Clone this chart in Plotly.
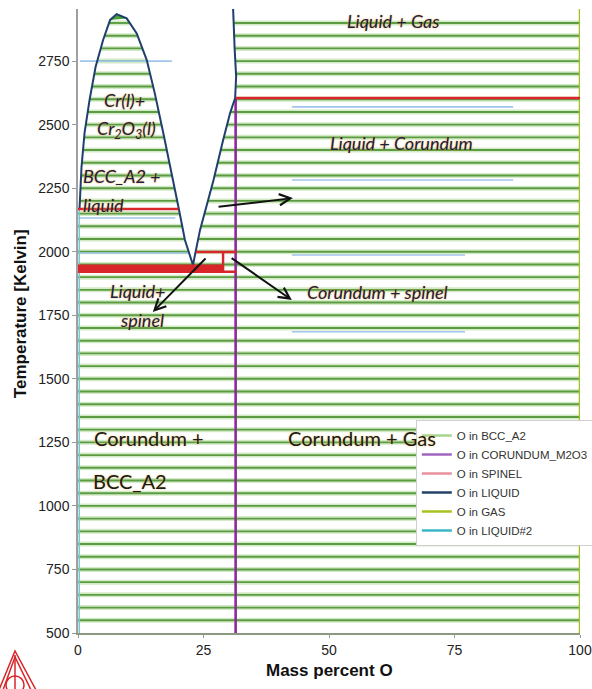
import numpy as np
import plotly.graph_objects as go

# ---------------- data ----------------
# O in LIQUID boundary: miscibility dome, eutectic V and upper liquidus
LIQ_X = [0.3, 0.4, 0.7, 1.3, 2.3, 3.5, 5.0, 6.4, 7.7, 9.7, 11.7, 13.7, 15.3, 17.0,
         18.7, 20.0, 21.3, 22.9, 24.3, 27.0, 28.9, 30.3, 31.3, 31.5, 31.2, 30.9]
LIQ_T = [2168, 2200, 2333, 2467, 2597, 2727, 2833, 2912, 2935, 2918, 2859, 2754, 2623, 2466,
         2308, 2177, 2046, 1948, 2085, 2282, 2439, 2546, 2605, 2690, 2800, 2955]
I_PEAK, I_VBOT, I_CORNER = 8, 17, 22

CORUNDUM_X = [31.4, 31.4]
CORUNDUM_T = [500, 2605]
GAS_X = [100, 100]
GAS_T = [500, 2955]
LIQ2_X = [0.25, 0.25]
LIQ2_T = [500, 2168]

# red invariant / spinel lines: (x0, x1, T0, T1)
RED_SEGS = [
    (0.0, 20.0, 2168, 2168),
    (31.4, 100.0, 2605, 2605),
    (0.0, 28.9, 1945, 1945),
    (0.0, 28.9, 1937, 1937),
    (0.0, 28.9, 1929, 1929),
    (0.0, 31.6, 1921, 1921),
    (23.5, 31.6, 1999, 1999),
    (28.9, 28.9, 1999, 1921),
]

# light-blue text-box borders: (x0, x1, T)
BOX_LINES = [
    (0.4, 18.7, 2750), (0.0, 19.4, 2133), (0.0, 22.3, 1995),
    (42.6, 86.7, 2570), (42.6, 86.7, 2282),
    (42.6, 77.1, 1987), (42.6, 77.1, 1685),
]

# tie-line temperatures
TIE_T = [550, 600, 650, 700, 750, 800, 850, 900, 950, 1000, 1050, 1100, 1150, 1200,
         1250, 1300, 1350, 1400, 1450, 1500, 1550, 1600, 1650, 1700, 1750, 1800, 1850,
         1900, 1950, 2000, 2050, 2100, 2150, 2200, 2250, 2300, 2350, 2400, 2450, 2500,
         2550, 2600, 2650, 2700, 2750, 2800, 2850, 2900]

X_TICKS = [0, 25, 50, 75, 100]
Y_TICKS = [500, 750, 1000, 1250, 1500, 1750, 2000, 2250, 2500, 2750]

LEGEND_NAMES = ["O in BCC_A2", "O in CORUNDUM_M2O3", "O in SPINEL",
                "O in LIQUID", "O in GAS", "O in LIQUID#2"]
LEGEND_COLORS = ["#a8d590", "#a066c0", "#e8909e", "#23406a", "#a8c21c", "#3ab7c4"]

# ---------------- helpers ----------------
lx = np.array(LIQ_X, float)
lt = np.array(LIQ_T, float)


def branch(i0, i1):
    ts = lt[i0:i1 + 1]
    xs = lx[i0:i1 + 1]
    o = np.argsort(ts)
    return ts[o], xs[o]


LEFT = branch(0, I_PEAK)
RIGHT = branch(I_PEAK, I_VBOT)
VRIGHT = branch(I_VBOT, I_CORNER)
TOP = branch(I_CORNER, len(LIQ_X) - 1)
T_MONO = LIQ_T[0]
T_PERI = LIQ_T[I_CORNER]

tie_x, tie_y = [], []
for T in TIE_T:
    segs = []
    if T < 1925:
        segs.append((0.0, 100.0))
    else:
        if T <= lt[I_PEAK]:
            xr = np.interp(T, *RIGHT)
            xl = 0.0 if T < T_MONO else np.interp(T, *LEFT)
            segs.append((xl, xr))
        if T < T_PERI:
            segs.append((np.interp(T, *VRIGHT), 100.0))
        else:
            segs.append((np.interp(T, *TOP), 100.0))
    for a, b in segs:
        tie_x += [a, b, None]
        tie_y += [T, T, None]

fig = go.Figure()

# tie-lines (halo + line)
fig.add_trace(go.Scatter(x=tie_x, y=tie_y, mode="lines", showlegend=False, hoverinfo="skip",
                         line=dict(color="#d3eac6", width=5)))
fig.add_trace(go.Scatter(x=tie_x, y=tie_y, mode="lines", showlegend=False, hoverinfo="skip",
                         line=dict(color="#5b9c43", width=1.9)))

# filled dome top
fig.add_trace(go.Scatter(x=LIQ_X[I_PEAK - 1:I_PEAK + 2], y=LIQ_T[I_PEAK - 1:I_PEAK + 2],
                         mode="lines", fill="toself", fillcolor="#4a9e3c",
                         line=dict(color="#4a9e3c", width=1), showlegend=False, hoverinfo="skip"))

# text-box borders
bx, by = [], []
for a, b, T in BOX_LINES:
    bx += [a, b, None]
    by += [T, T, None]
fig.add_trace(go.Scatter(x=bx, y=by, mode="lines", showlegend=False, hoverinfo="skip",
                         line=dict(color="#9fc5ea", width=1.6)))

# phase boundaries
fig.add_trace(go.Scatter(x=LIQ2_X, y=LIQ2_T, mode="lines", showlegend=False,
                         line=dict(color="#7cc7d0", width=1.5)))
fig.add_trace(go.Scatter(x=GAS_X, y=GAS_T, mode="lines", showlegend=False,
                         line=dict(color="#a3c11c", width=2.5)))
fig.add_trace(go.Scatter(x=CORUNDUM_X, y=CORUNDUM_T, mode="lines", showlegend=False,
                         line=dict(color="#8c2a9c", width=2.6)))
fig.add_trace(go.Scatter(x=LIQ_X, y=LIQ_T, mode="lines", showlegend=False,
                         line=dict(color="#1f3f6c", width=2)))

rx, ry = [], []
for a, b, t0, t1 in RED_SEGS:
    rx += [a, b, None]
    ry += [t0, t1, None]
fig.add_trace(go.Scatter(x=rx, y=ry, mode="lines", showlegend=False,
                         line=dict(color="#d8262b", width=2.4)))

# legend entries
for name, col in zip(LEGEND_NAMES, LEGEND_COLORS):
    fig.add_trace(go.Scatter(x=[None], y=[None], mode="lines", name=name,
                             line=dict(color=col, width=2.5)))

# ---------------- annotations ----------------
ital = dict(family="Lato, Open Sans, sans-serif", size=18, color="#1b2140",
            style="italic", shadow="0px 0px 2px #f0a83a")
plain = dict(family="Lato, Open Sans, sans-serif", size=20, color="#1b1b1b",
             shadow="0px 0px 2px #f0c060")

LABELS = [
    ("Liquid + Gas", 62.7, 2906, ital, "center"),
    ("Cr(l)+", 9.2, 2597, ital, "center"),
    ("Cr<sub>2</sub>O<sub>3</sub>(l)", 9.6, 2479, ital, "center"),
    ("BCC_A2 +", 8.8, 2298, ital, "center"),
    ("liquid", 0.6, 2184, ital, "left"),
    ("Liquid + Corundum", 64.5, 2428, ital, "center"),
    ("Liquid+", 12.0, 1845, ital, "center"),
    ("spinel", 12.7, 1731, ital, "center"),
    ("Corundum + spinel", 59.6, 1841, ital, "center"),
    ("Corundum +", 14.1, 1267, plain, "center"),
    ("BCC_A2", 10.4, 1098, plain, "center"),
    ("Corundum + Gas", 56.6, 1267, plain, "center"),
]
for txt, x, y, f, anc in LABELS:
    fig.add_annotation(x=x, y=y, text=txt, showarrow=False, font=f, xanchor=anc,
                       yanchor="middle")

ARROWS = [  # (tail x, tail T, head x, head T)
    (27.7, 2176, 42.8, 2211),
    (25.7, 1979, 14.9, 1763),
    (30.3, 1979, 42.6, 1810),
]
for ax_, ay_, hx, hy in ARROWS:
    fig.add_annotation(x=hx, y=hy, ax=ax_, ay=ay_, axref="x", ayref="y", text="",
                       showarrow=True, arrowhead=5, arrowsize=1.1, arrowwidth=2,
                       arrowcolor="#111111")

# axis titles
fig.add_annotation(xref="paper", yref="paper", x=-0.1155, y=0.511, text="<b>Temperature [Kelvin]</b>",
                   textangle=-90, showarrow=False, xanchor="center", yanchor="middle",
                   font=dict(family="Arial, Liberation Sans", size=17, color="#111"))
fig.add_annotation(xref="paper", yref="paper", x=0.5, y=-0.0593, text="<b>Mass percent O</b>",
                   showarrow=False, xanchor="center", yanchor="middle",
                   font=dict(family="Arial, Liberation Sans", size=17, color="#111"))

# Thermo-Calc style logo (decoration)
PL, PR, PT, PB = 78, 580, 9, 633


def pp(px, py):
    return (px - PL) / (PR - PL), (PB - py) / (PB - PT)


def path(pts, close=True):
    s = ""
    for i, (px, py) in enumerate(pts):
        x, y = pp(px, py)
        s += ("M" if i == 0 else "L") + f"{x:.4f},{y:.4f} "
    return s + ("Z" if close else "")


logo_col = "#d8262b"
for tri in ([(15, 651), (-1, 690), (36, 690)], [(15, 657), (3, 690), (31, 690)]):
    fig.add_shape(type="path", xref="paper", yref="paper", path=path(tri),
                  line=dict(color=logo_col, width=1.5))
fig.add_shape(type="path", xref="paper", yref="paper", path=path([(15, 655), (15, 690)], False),
              line=dict(color=logo_col, width=1.5))
c0 = pp(6, 676)
c1 = pp(24, 694)
fig.add_shape(type="circle", xref="paper", yref="paper", x0=c0[0], y0=c0[1], x1=c1[0], y1=c1[1],
              line=dict(color=logo_col, width=1.5))

# ---------------- layout ----------------
fig.update_layout(
    width=592, height=689,
    margin=dict(l=78, r=12, t=9, b=56, autoexpand=False),
    paper_bgcolor="white", plot_bgcolor="white",
    showlegend=True,
    legend=dict(x=0.673, y=(633 - 420) / 624, xanchor="left", yanchor="top", bgcolor="white",
                bordercolor="#cfcfcf", borderwidth=1, tracegroupgap=0,
                font=dict(family="Arial, Liberation Sans", size=11.5, color="#333")),
    xaxis=dict(range=[0, 100], tickvals=X_TICKS, ticks="outside", ticklen=3,
               tickcolor="#999", showgrid=False, zeroline=False, showline=True,
               linecolor="#8a9a80", linewidth=1.5, automargin=False,
               tickfont=dict(family="Arial, Liberation Sans", size=14, color="#222")),
    yaxis=dict(range=[500, 2955], tickvals=Y_TICKS, ticks="outside", ticklen=4,
               tickcolor="#999", showgrid=False, zeroline=False, showline=True,
               linecolor="#a0a0a0", linewidth=1.5, automargin=False,
               tickfont=dict(family="Arial, Liberation Sans", size=14, color="#222")),
)

fig.write_html("out.html")
